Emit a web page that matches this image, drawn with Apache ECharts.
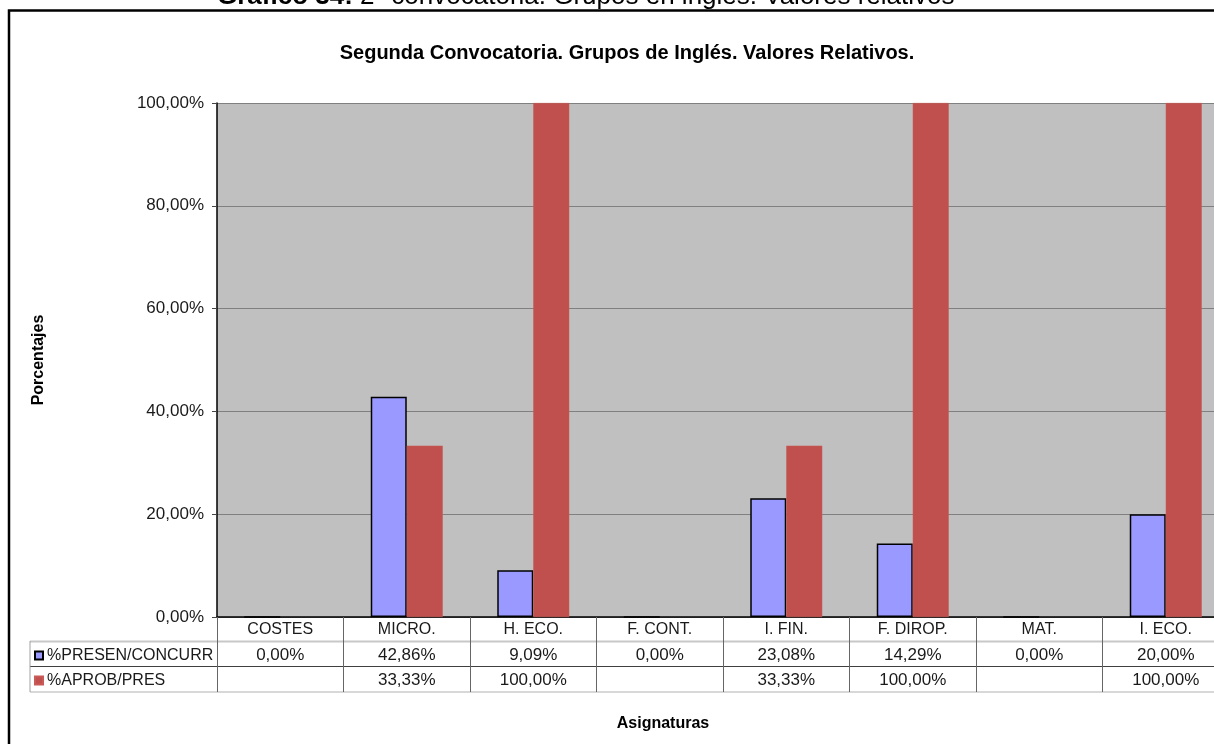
<!DOCTYPE html>
<html>
<head>
<meta charset="utf-8">
<script src="https://cdn.jsdelivr.net/npm/echarts@6/dist/echarts.min.js"></script>
<style>
html,body{margin:0;padding:0;background:#fff;}
#c{width:1214px;height:744px;}
</style>
</head>
<body>
<div id="c"></div>
<script>
// ---- data ----
const categories = ['COSTES', 'MICRO.', 'H. ECO.', 'F. CONT.', 'I. FIN.', 'F. DIROP.', 'MAT.', 'I. ECO.'];
const seriesNames = ['%PRESEN/CONCURR', '%APROB/PRES'];
const presenValues = [0.00, 42.86, 9.09, 0.00, 23.08, 14.29, 0.00, 20.00];
const aprobValues = [null, 33.33, 100.00, null, 33.33, 100.00, null, 100.00];
const yTicks = [0, 20, 40, 60, 80, 100];
const chartTitle = 'Segunda Convocatoria. Grupos de Inglés. Valores Relativos.';
const yTitle = 'Porcentajes';
const xTitle = 'Asignaturas';
const headerBold = 'Gráfico 34:';
const headerRest = ' 2ª convocatoria. Grupos en inglés. Valores relativos';

const fmt = v => (v == null ? '' : v.toFixed(2).replace('.', ',') + '%');
const FONT = '"Liberation Sans", Arial, sans-serif';
const TXT = '#1a1a1a';

const chart = echarts.init(document.getElementById('c'), null, {renderer: 'canvas'});

const rowAxis = (vals, offset) => ({
  type: 'category',
  gridIndex: 0,
  position: 'bottom',
  offset: offset,
  data: vals.map(fmt),
  boundaryGap: true,
  axisLine: {show: false},
  axisTick: {show: false},
  splitLine: {show: false},
  axisLabel: {margin: 5, interval: 0, fontFamily: FONT, fontSize: 17, color: TXT}
});

const option = {
  backgroundColor: '#ffffff',
  animation: false,
  title: {
    text: chartTitle,
    left: 622,
    top: 38,
    textAlign: 'center',
    textStyle: {fontFamily: FONT, fontSize: 20, fontWeight: 'bold', color: '#000'}
  },
  legend: {
    data: seriesNames,
    orient: 'vertical',
    left: 34,
    top: 646.5,
    padding: 0,
    itemGap: 7,
    itemWidth: 8,
    itemHeight: 8,
    icon: 'rect',
    textStyle: {fontFamily: FONT, fontSize: 16, color: TXT, lineHeight: 18, padding: [0, 0, 0, -1]}
  },
  grid: {
    left: 217, top: 103, width: 1012, height: 514,
    outerBoundsMode: 'none',
    containLabel: false,
    show: true, backgroundColor: '#C0C0C0', borderWidth: 0
  },
  xAxis: [
    {
      type: 'category',
      data: categories,
      boundaryGap: true,
      axisLine: {show: true, lineStyle: {color: '#000', width: 1.5}},
      axisTick: {show: true, length: 75, lineStyle: {color: '#666', width: 1}},
      axisLabel: {margin: 5, interval: 0, fontFamily: FONT, fontSize: 16, color: TXT},
      splitLine: {show: false}
    },
    rowAxis(presenValues, 25),
    rowAxis(aprobValues, 50)
  ],
  yAxis: {
    type: 'value',
    min: yTicks[0],
    max: yTicks[yTicks.length - 1],
    interval: yTicks[1] - yTicks[0],
    name: yTitle,
    nameLocation: 'middle',
    nameRotate: 90,
    nameGap: 170,
    nameTextStyle: {fontFamily: FONT, fontSize: 16, fontWeight: 'bold', color: '#000'},
    axisLine: {show: true, lineStyle: {color: '#000', width: 1.5}},
    axisTick: {show: true, length: 5, lineStyle: {color: '#444'}},
    axisLabel: {margin: 13, fontFamily: FONT, fontSize: 17, color: TXT, formatter: v => fmt(v)},
    splitLine: {show: true, lineStyle: {color: '#808080', width: 1}}
  },
  series: [
    {
      name: seriesNames[0],
      type: 'bar',
      data: presenValues,
      barWidth: 36,
      barGap: '0%',
      itemStyle: {color: '#9999FF', borderColor: '#000', borderWidth: 1.5}
    },
    {
      name: seriesNames[1],
      type: 'bar',
      data: aprobValues,
      barWidth: 36,
      barGap: '0%',
      itemStyle: {color: '#C0504D', borderColor: '#C95A57', borderWidth: 0.5}
    }
  ],
  graphic: [
    {type: 'rect', shape: {x: 9, y: 10.5, width: 1230, height: 760}, style: {fill: 'none', stroke: '#000', lineWidth: 2.5}, silent: true},
    {type: 'line', shape: {x1: 30, y1: 641.5, x2: 1214, y2: 641.5}, style: {stroke: '#C8C8C8', lineWidth: 2}, silent: true},
    {type: 'line', shape: {x1: 30, y1: 666.5, x2: 1214, y2: 666.5}, style: {stroke: '#404040', lineWidth: 1}, silent: true},
    {type: 'line', shape: {x1: 30, y1: 692, x2: 1214, y2: 692}, style: {stroke: '#D8D8D8', lineWidth: 2}, silent: true},
    {type: 'line', shape: {x1: 30, y1: 641, x2: 30, y2: 692}, style: {stroke: '#A0A0A0', lineWidth: 1}, silent: true},
    {type: 'text', x: 663, y: 724, style: {text: xTitle, align: 'center', verticalAlign: 'middle', font: 'bold 16px ' + FONT, fill: '#000'}, silent: true},
    {type: 'text', x: 217, y: 10, style: {
      text: '{b|' + headerBold + '}{r|' + headerRest + '}',
      verticalAlign: 'bottom',
      rich: {
        b: {fontFamily: FONT, fontSize: 26, fontWeight: 'bold', fill: '#000'},
        r: {fontFamily: FONT, fontSize: 26, fill: '#000'}
      }
    }, silent: true}
  ]
};
chart.setOption(option);
</script>
</body>
</html>
